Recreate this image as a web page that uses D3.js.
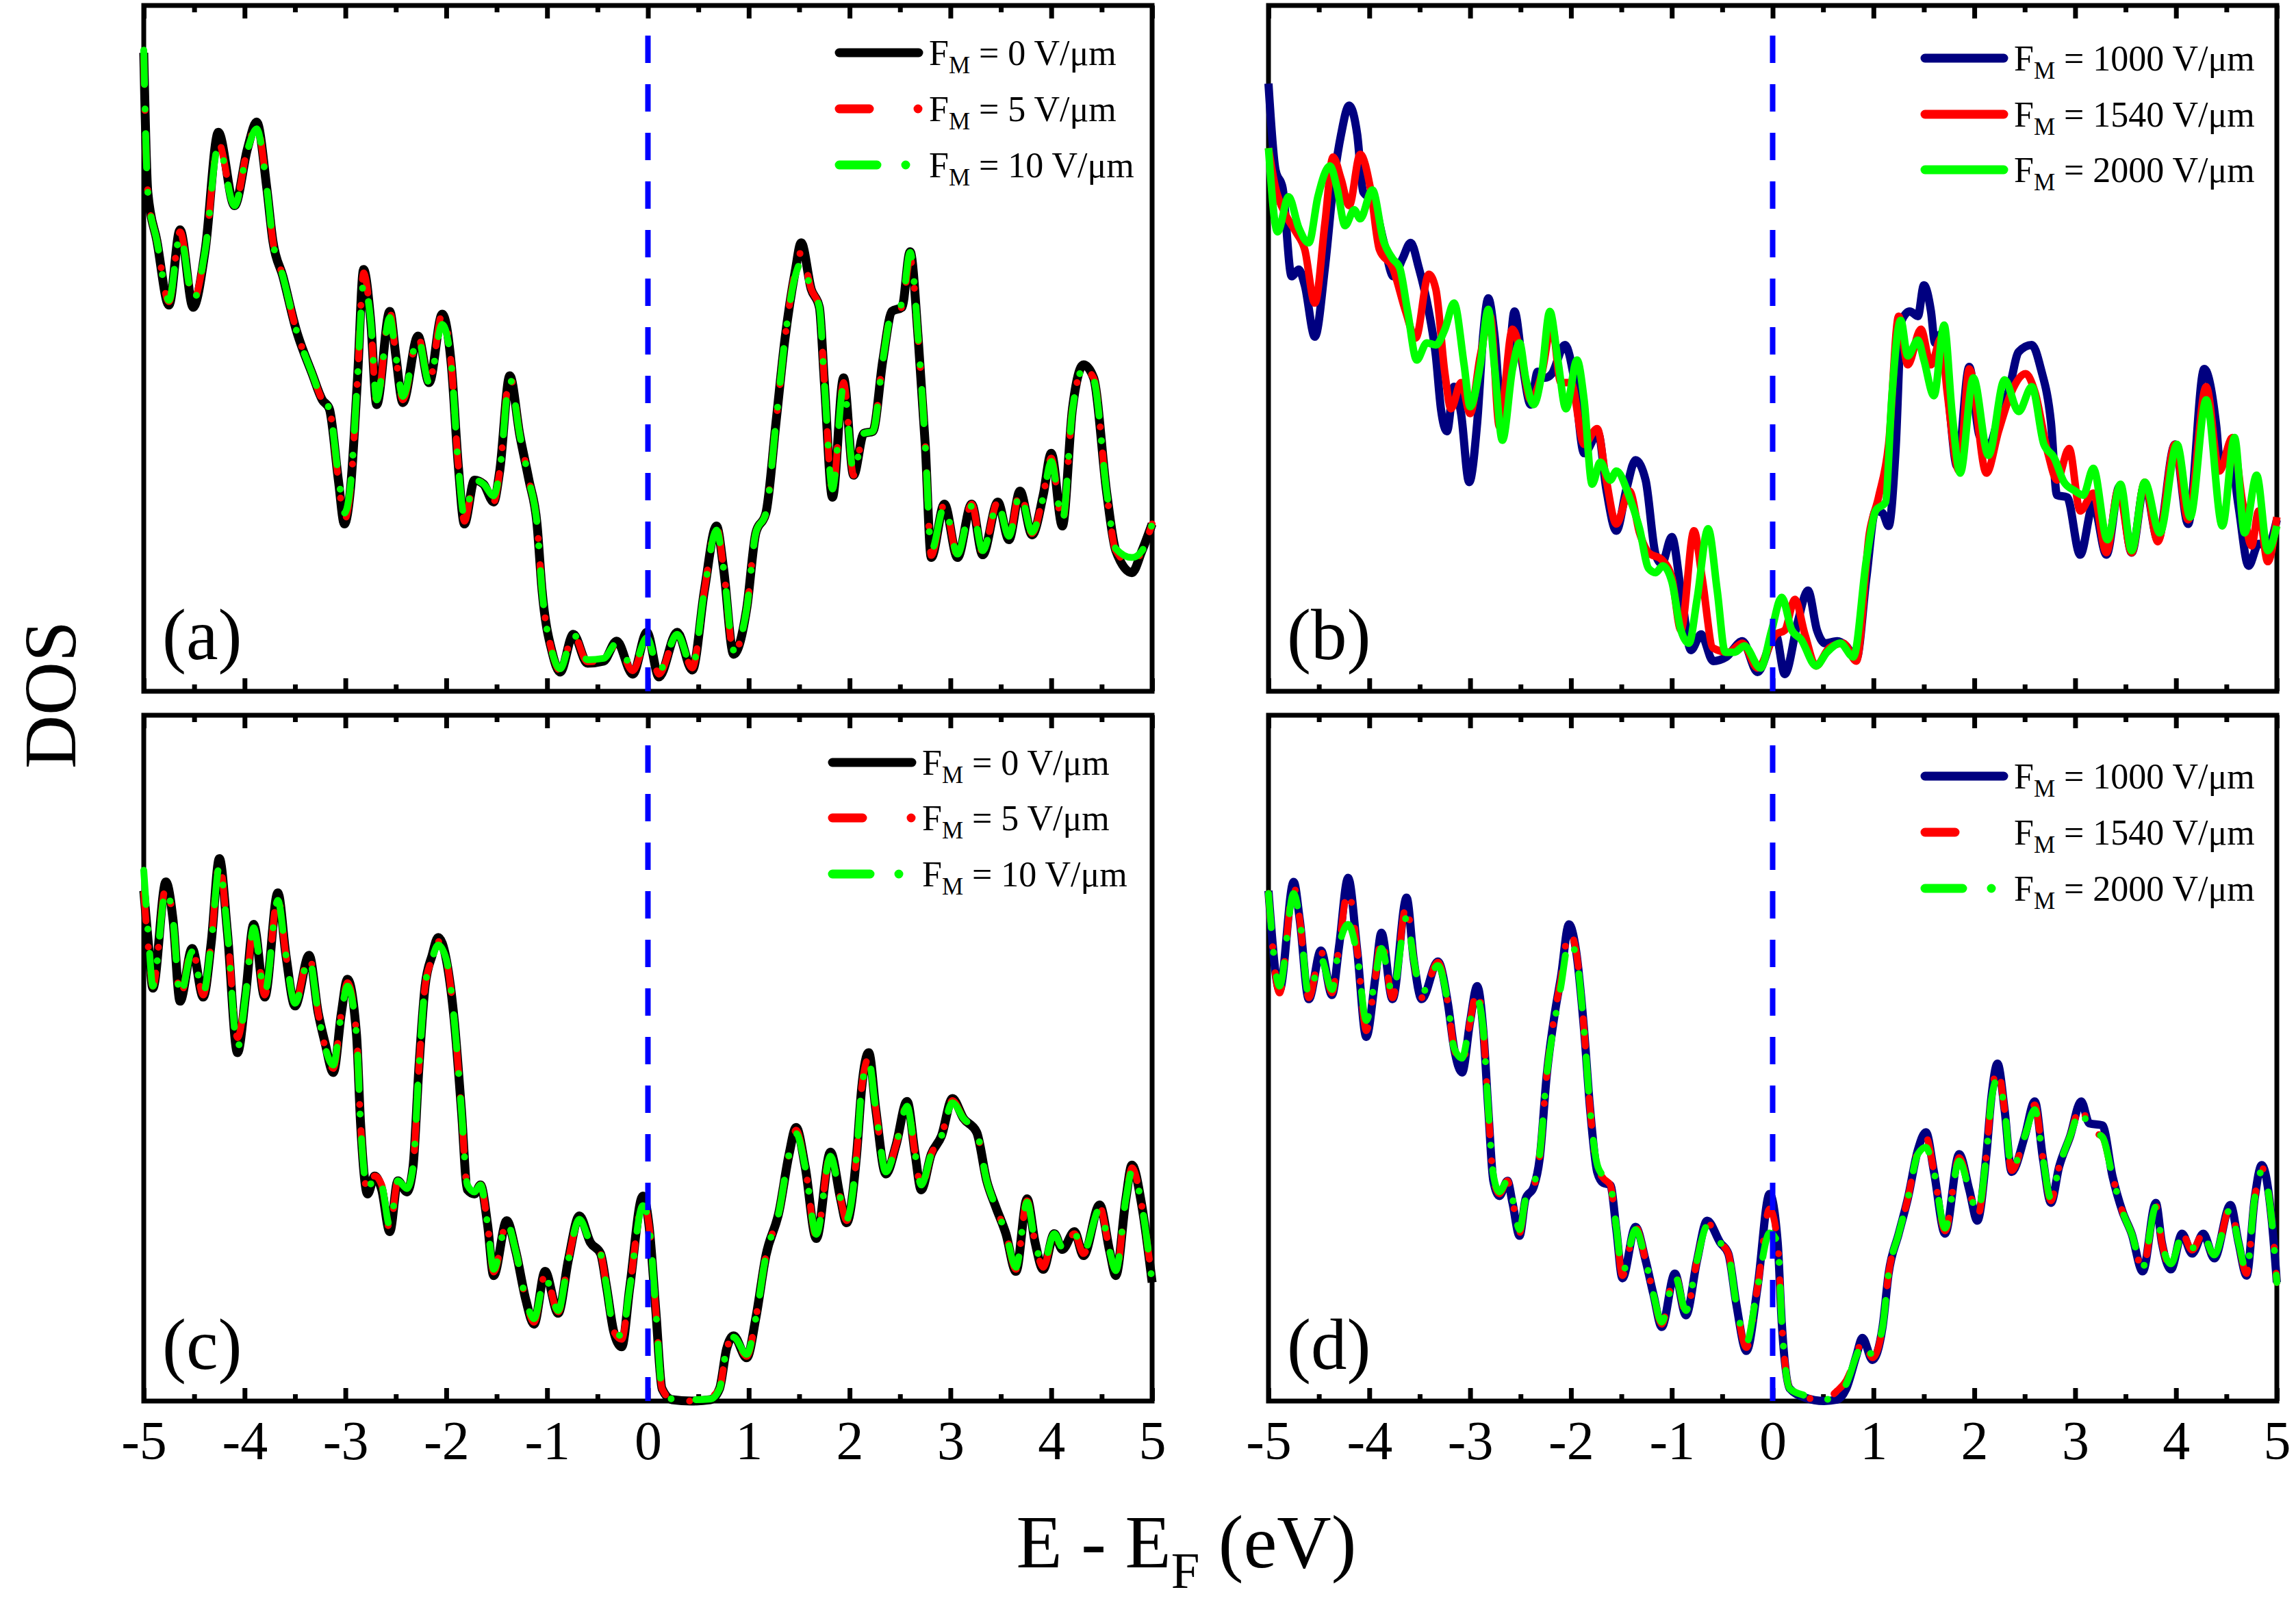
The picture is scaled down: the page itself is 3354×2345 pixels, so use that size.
<!DOCTYPE html>
<html>
<head>
<meta charset="utf-8">
<script src="https://cdn.jsdelivr.net/npm/d3@7"></script>
<style>
  body { margin: 0; background: #fff; }
  svg { display: block; font-family: "Liberation Serif", "Times New Roman", serif; }
  text { white-space: pre; }
</style>
</head>
<body>
<svg width="3354" height="2345"></svg>
<script>
// x axis
const xMajorTicks = [-5, -4, -3, -2, -1, 0, 1, 2, 3, 4, 5];
const xMinorTicks = [-4.5, -3.5, -2.5, -1.5, -0.5, 0.5, 1.5, 2.5, 3.5, 4.5];
const xTickLabels = ["-5", "-4", "-3", "-2", "-1", "0", "1", "2", "3", "4", "5"];

// legend field values (V/μm)
const lowFields = ["0", "5", "10"];
const highFields = ["1000", "1540", "2000"];
const panelLabels = ["(a)", "(b)", "(c)", "(d)"];

// DOS, [E - EF (eV), DOS (0 = panel bottom, 100 = panel top)]
const aBlack = [[-5.00,93.1],[-4.96,72.8],[-4.87,65.7],[-4.75,56.3],[-4.64,67.3],[-4.51,56.0],[-4.39,64.4],[-4.26,81.5],[-4.10,70.8],[-3.97,79.2],[-3.88,83.0],[-3.78,73.4],[-3.72,65.7],[-3.62,60.5],[-3.49,52.8],[-3.33,46.3],[-3.23,42.5],[-3.16,41.2],[-3.07,30.8],[-3.01,24.4],[-2.95,29.5],[-2.88,45.7],[-2.82,61.5],[-2.75,54.1],[-2.69,41.8],[-2.56,55.4],[-2.50,48.9],[-2.43,42.1],[-2.28,51.8],[-2.17,45.0],[-2.04,55.0],[-1.95,47.6],[-1.88,32.8],[-1.82,24.4],[-1.72,30.8],[-1.63,30.2],[-1.53,27.6],[-1.47,32.1],[-1.37,46.0],[-1.27,37.3],[-1.18,30.8],[-1.10,24.4],[-1.05,14.7],[-0.95,5.7],[-0.87,2.8],[-0.74,8.3],[-0.60,4.1],[-0.44,4.4],[-0.31,7.3],[-0.15,2.5],[-0.01,8.6],[0.11,2.1],[0.29,8.6],[0.44,3.1],[0.56,14.7],[0.68,24.1],[0.75,17.9],[0.85,5.4],[0.98,12.1],[1.07,23.1],[1.17,26.0],[1.27,39.2],[1.36,51.5],[1.46,61.2],[1.52,65.4],[1.62,58.6],[1.70,56.0],[1.75,45.0],[1.83,28.3],[1.94,45.7],[2.04,31.5],[2.14,37.6],[2.23,37.9],[2.33,48.3],[2.42,55.4],[2.52,56.0],[2.60,64.1],[2.68,51.5],[2.75,36.0],[2.81,19.5],[2.94,27.3],[3.07,19.5],[3.21,27.3],[3.32,19.9],[3.47,27.6],[3.58,22.1],[3.69,29.2],[3.81,22.8],[3.92,28.6],[4.00,34.7],[4.11,24.1],[4.21,41.2],[4.32,47.6],[4.42,45.7],[4.55,28.9],[4.64,20.5],[4.80,17.3],[4.90,20.5],[5.00,24.4]];
const aRed = [[-5.00,92.5],[-4.96,72.8],[-4.87,65.7],[-4.75,56.8],[-4.64,67.0],[-4.51,57.0],[-4.39,64.4],[-4.26,80.0],[-4.10,70.8],[-3.97,79.2],[-3.88,82.5],[-3.78,73.4],[-3.72,65.7],[-3.62,60.5],[-3.49,52.8],[-3.33,46.3],[-3.23,42.5],[-3.16,41.2],[-3.07,30.8],[-3.01,25.0],[-2.95,29.5],[-2.88,45.7],[-2.82,61.0],[-2.75,54.1],[-2.69,41.8],[-2.56,55.4],[-2.50,48.9],[-2.43,42.5],[-2.28,51.8],[-2.17,45.0],[-2.04,55.0],[-1.95,47.6],[-1.88,32.8],[-1.82,24.8],[-1.72,30.8],[-1.63,30.2],[-1.53,27.6],[-1.47,32.1],[-1.37,46.0],[-1.27,37.3],[-1.18,30.8],[-1.10,24.4],[-1.05,14.7],[-0.95,5.7],[-0.87,3.0],[-0.74,8.3],[-0.60,4.3],[-0.44,4.6],[-0.31,6.8],[-0.15,3.0],[-0.01,7.6],[0.11,2.5],[0.29,8.3],[0.44,3.4],[0.56,14.7],[0.68,24.1],[0.75,17.9],[0.85,5.6],[0.98,12.1],[1.07,23.1],[1.17,26.0],[1.27,39.2],[1.36,51.5],[1.46,61.2],[1.52,64.0],[1.62,58.6],[1.70,56.0],[1.75,45.0],[1.83,29.0],[1.94,45.0],[2.04,31.5],[2.14,37.6],[2.23,37.9],[2.33,48.3],[2.42,55.4],[2.52,56.0],[2.60,63.0],[2.68,51.5],[2.75,36.0],[2.81,19.8],[2.94,27.3],[3.07,19.8],[3.21,27.3],[3.32,20.2],[3.47,27.6],[3.58,22.4],[3.69,29.2],[3.81,23.0],[3.92,28.6],[4.00,34.0],[4.11,24.4],[4.21,41.2],[4.32,47.0],[4.42,45.7],[4.55,28.9],[4.64,20.5],[4.80,18.5],[4.90,20.5],[5.00,24.4]];
const aGreen = [[-5.00,93.5],[-4.96,72.8],[-4.87,65.7],[-4.75,57.0],[-4.64,66.5],[-4.51,57.0],[-4.39,64.4],[-4.26,79.5],[-4.10,70.8],[-3.97,79.0],[-3.88,82.0],[-3.78,73.4],[-3.72,65.7],[-3.62,60.5],[-3.49,52.8],[-3.33,46.3],[-3.23,42.5],[-3.16,41.2],[-3.07,31.5],[-3.01,26.0],[-2.95,30.0],[-2.88,45.7],[-2.82,59.5],[-2.75,54.1],[-2.69,42.5],[-2.56,54.5],[-2.50,48.9],[-2.43,43.0],[-2.28,51.5],[-2.17,45.0],[-2.04,53.5],[-1.95,47.6],[-1.88,32.8],[-1.82,25.5],[-1.72,30.8],[-1.63,30.2],[-1.53,28.5],[-1.47,32.1],[-1.37,45.5],[-1.27,37.3],[-1.18,30.8],[-1.10,24.4],[-1.05,14.7],[-0.95,5.7],[-0.87,3.3],[-0.74,8.3],[-0.60,4.6],[-0.44,4.8],[-0.31,7.0],[-0.15,3.5],[-0.01,7.8],[0.11,3.0],[0.29,8.3],[0.44,3.6],[0.56,14.7],[0.68,23.5],[0.75,17.9],[0.85,6.0],[0.98,12.1],[1.07,23.1],[1.17,26.0],[1.27,39.2],[1.36,51.5],[1.46,60.5],[1.52,62.5],[1.62,58.6],[1.70,56.0],[1.75,45.0],[1.83,29.5],[1.94,44.5],[2.04,32.0],[2.14,37.6],[2.23,37.9],[2.33,48.3],[2.42,55.4],[2.52,56.5],[2.60,64.0],[2.68,51.5],[2.75,36.0],[2.81,20.5],[2.94,27.0],[3.07,20.0],[3.21,27.0],[3.32,20.5],[3.47,27.3],[3.58,22.6],[3.69,28.8],[3.81,23.2],[3.92,28.3],[4.00,33.5],[4.11,24.8],[4.21,41.0],[4.32,47.0],[4.42,45.5],[4.55,29.0],[4.64,20.8],[4.80,19.5],[4.90,20.5],[5.00,24.4]];

const bNavy = [[-5.00,88.6],[-4.93,76.0],[-4.86,73.4],[-4.77,60.5],[-4.70,61.5],[-4.64,59.2],[-4.54,51.7],[-4.44,61.8],[-4.35,74.7],[-4.28,81.2],[-4.20,85.4],[-4.12,81.2],[-4.06,72.8],[-3.96,71.5],[-3.86,65.7],[-3.76,60.5],[-3.67,63.1],[-3.59,65.4],[-3.51,61.8],[-3.41,55.4],[-3.34,48.9],[-3.29,41.2],[-3.23,37.9],[-3.16,44.4],[-3.09,40.5],[-3.01,30.5],[-2.93,39.2],[-2.87,52.1],[-2.82,57.3],[-2.76,52.1],[-2.68,39.2],[-2.61,48.9],[-2.56,55.4],[-2.48,47.6],[-2.40,41.8],[-2.33,46.6],[-2.26,45.7],[-2.19,46.3],[-2.06,50.5],[-1.97,45.7],[-1.87,34.7],[-1.73,37.6],[-1.65,29.5],[-1.55,23.4],[-1.45,29.5],[-1.36,33.7],[-1.26,30.8],[-1.16,19.9],[-1.10,18.6],[-1.00,22.5],[-0.91,14.7],[-0.81,6.0],[-0.71,8.3],[-0.59,4.4],[-0.46,5.0],[-0.30,7.3],[-0.15,2.8],[0.03,8.3],[0.12,2.5],[0.25,10.2],[0.35,14.7],[0.44,8.9],[0.52,7.0],[0.64,7.3],[0.73,6.6],[0.83,4.7],[0.93,16.6],[1.02,26.3],[1.09,26.0],[1.15,24.1],[1.22,35.4],[1.28,54.1],[1.36,55.4],[1.44,54.7],[1.50,59.2],[1.57,55.4],[1.61,50.8],[1.67,52.1],[1.73,45.0],[1.83,32.8],[1.95,47.3],[2.05,37.3],[2.15,36.0],[2.24,39.9],[2.34,43.7],[2.44,49.5],[2.57,50.5],[2.66,47.0],[2.76,39.2],[2.82,28.6],[2.92,28.3],[3.05,19.9],[3.18,27.3],[3.31,19.9],[3.44,29.9],[3.56,20.2],[3.69,30.2],[3.82,22.1],[3.99,36.0],[4.12,24.4],[4.28,47.0],[4.40,38.6],[4.44,32.8],[4.53,35.4],[4.62,27.0],[4.72,18.3],[4.82,21.5],[4.91,21.2],[5.00,25.0]];
const bRed = [[-5.00,79.2],[-4.93,73.4],[-4.83,69.5],[-4.73,67.0],[-4.64,64.4],[-4.54,56.6],[-4.44,68.3],[-4.36,77.9],[-4.28,74.7],[-4.20,70.8],[-4.09,78.3],[-3.99,73.4],[-3.90,64.4],[-3.77,61.8],[-3.64,55.4],[-3.54,51.5],[-3.41,60.8],[-3.34,58.6],[-3.25,46.3],[-3.19,41.2],[-3.09,45.0],[-3.00,40.5],[-2.90,48.9],[-2.80,54.7],[-2.71,38.6],[-2.58,52.8],[-2.50,49.5],[-2.40,42.5],[-2.29,46.3],[-2.19,53.4],[-2.10,45.0],[-2.00,45.0],[-1.87,36.0],[-1.74,38.3],[-1.65,30.8],[-1.55,24.4],[-1.42,29.2],[-1.32,23.1],[-1.23,20.2],[-1.10,19.2],[-1.00,16.6],[-0.91,8.9],[-0.78,23.4],[-0.70,16.6],[-0.59,6.3],[-0.44,5.7],[-0.30,7.0],[-0.15,3.4],[0.03,8.3],[0.12,8.9],[0.22,13.4],[0.32,8.3],[0.43,3.7],[0.56,6.3],[0.70,7.0],[0.83,4.4],[0.96,23.1],[1.05,28.3],[1.15,36.0],[1.25,54.7],[1.34,47.6],[1.47,52.8],[1.57,47.6],[1.67,51.5],[1.73,43.7],[1.85,32.1],[1.95,47.0],[2.12,31.8],[2.24,37.9],[2.37,43.7],[2.51,46.3],[2.60,43.7],[2.73,34.7],[2.82,30.8],[2.94,35.4],[3.05,26.3],[3.18,28.9],[3.31,20.2],[3.43,29.5],[3.56,20.2],[3.69,30.5],[3.82,21.8],[3.99,36.0],[4.12,25.0],[4.30,44.4],[4.43,32.1],[4.56,37.0],[4.66,27.6],[4.75,21.2],[4.82,26.3],[4.91,18.9],[5.00,25.4]];
const bGreen = [[-5.00,79.2],[-4.91,67.0],[-4.80,72.1],[-4.70,67.6],[-4.60,65.4],[-4.51,72.1],[-4.39,76.6],[-4.32,73.4],[-4.24,67.9],[-4.15,70.2],[-4.09,68.9],[-3.97,73.1],[-3.86,65.7],[-3.77,63.1],[-3.70,61.8],[-3.62,55.4],[-3.53,48.3],[-3.43,50.8],[-3.34,50.5],[-3.25,52.8],[-3.16,56.6],[-3.06,47.6],[-3.00,41.5],[-2.90,47.6],[-2.82,55.7],[-2.76,47.6],[-2.68,36.6],[-2.58,47.0],[-2.51,50.8],[-2.45,45.7],[-2.37,41.8],[-2.29,46.3],[-2.21,55.4],[-2.13,48.3],[-2.05,41.2],[-1.94,48.3],[-1.87,42.5],[-1.79,30.2],[-1.71,33.4],[-1.61,30.8],[-1.55,32.1],[-1.42,28.3],[-1.32,23.7],[-1.23,17.9],[-1.16,17.3],[-1.09,18.3],[-1.00,16.0],[-0.91,8.9],[-0.83,7.0],[-0.75,13.4],[-0.64,23.7],[-0.55,14.7],[-0.47,5.7],[-0.38,5.7],[-0.28,6.6],[-0.12,3.4],[-0.01,8.9],[0.09,13.7],[0.19,8.9],[0.28,7.6],[0.43,3.7],[0.54,5.7],[0.67,7.0],[0.80,5.0],[0.93,19.2],[1.02,26.3],[1.12,27.6],[1.18,42.5],[1.27,54.1],[1.34,48.9],[1.44,51.2],[1.50,48.3],[1.60,43.1],[1.70,53.4],[1.78,40.5],[1.86,31.8],[1.99,45.7],[2.14,34.4],[2.30,45.4],[2.44,40.8],[2.57,44.4],[2.69,36.0],[2.79,34.1],[2.89,30.5],[3.00,29.2],[3.08,28.6],[3.18,32.5],[3.32,22.1],[3.45,30.2],[3.56,20.5],[3.69,30.5],[3.84,23.1],[4.01,36.0],[4.14,25.4],[4.30,42.5],[4.46,24.1],[4.58,37.0],[4.68,23.1],[4.80,31.5],[4.91,20.5],[5.00,24.1]];

const cBlack = [[-5.00,74.4],[-4.95,66.0],[-4.91,60.2],[-4.78,75.7],[-4.71,70.2],[-4.64,58.3],[-4.52,66.0],[-4.41,58.9],[-4.33,67.0],[-4.25,79.1],[-4.17,68.3],[-4.07,50.8],[-3.99,59.2],[-3.91,69.5],[-3.80,58.9],[-3.67,74.1],[-3.59,65.0],[-3.50,57.6],[-3.36,65.0],[-3.27,56.6],[-3.20,52.1],[-3.12,47.9],[-3.04,56.6],[-2.98,61.5],[-2.89,53.4],[-2.85,40.5],[-2.78,30.2],[-2.71,32.8],[-2.64,30.8],[-2.56,24.7],[-2.48,32.1],[-2.39,30.5],[-2.33,34.1],[-2.27,48.9],[-2.21,60.5],[-2.14,65.0],[-2.08,67.6],[-2.00,64.4],[-1.92,55.4],[-1.85,42.5],[-1.79,30.8],[-1.72,30.2],[-1.66,31.5],[-1.59,25.7],[-1.53,18.3],[-1.40,26.3],[-1.31,21.8],[-1.21,14.7],[-1.13,11.2],[-1.02,18.9],[-0.89,12.8],[-0.79,20.5],[-0.68,27.0],[-0.57,23.1],[-0.47,21.5],[-0.41,16.6],[-0.34,10.2],[-0.26,7.9],[-0.18,16.6],[-0.05,29.9],[0.01,25.7],[0.08,12.8],[0.14,1.8],[0.24,0.2],[0.43,0.0],[0.62,0.2],[0.71,1.8],[0.78,7.6],[0.85,9.5],[0.98,6.3],[1.07,12.1],[1.17,21.2],[1.30,27.6],[1.40,36.0],[1.47,39.9],[1.56,34.1],[1.67,23.7],[1.81,36.3],[1.91,29.5],[1.97,26.0],[2.07,36.0],[2.12,45.7],[2.19,50.8],[2.26,42.5],[2.36,33.1],[2.46,37.3],[2.57,43.7],[2.65,36.0],[2.71,30.8],[2.81,36.0],[2.91,38.6],[3.02,44.1],[3.13,41.2],[3.26,39.2],[3.36,32.1],[3.45,28.3],[3.55,24.4],[3.65,18.9],[3.76,29.5],[3.84,23.1],[3.92,19.2],[4.03,24.4],[4.11,22.1],[4.23,24.7],[4.32,21.2],[4.48,28.6],[4.58,21.8],[4.64,18.3],[4.74,29.5],[4.80,34.4],[4.90,28.3],[5.00,17.3]];
const cRed = [[-5.00,74.0],[-4.95,65.5],[-4.91,60.5],[-4.78,75.0],[-4.71,70.2],[-4.64,58.8],[-4.52,66.0],[-4.41,59.2],[-4.33,67.0],[-4.25,78.5],[-4.17,68.3],[-4.07,53.0],[-3.99,59.2],[-3.91,69.0],[-3.80,59.2],[-3.67,73.5],[-3.59,65.0],[-3.50,58.0],[-3.36,65.0],[-3.27,56.6],[-3.20,51.5],[-3.12,48.5],[-3.04,56.6],[-2.98,61.0],[-2.89,53.4],[-2.85,40.5],[-2.78,30.5],[-2.71,32.8],[-2.64,31.5],[-2.56,25.0],[-2.48,32.1],[-2.39,31.0],[-2.33,34.1],[-2.27,48.9],[-2.21,60.5],[-2.14,64.5],[-2.08,67.0],[-2.00,64.4],[-1.92,55.4],[-1.85,42.5],[-1.79,31.0],[-1.72,30.5],[-1.66,31.5],[-1.59,25.7],[-1.53,18.8],[-1.40,26.0],[-1.31,21.8],[-1.21,14.7],[-1.13,11.5],[-1.02,18.5],[-0.89,13.0],[-0.79,20.5],[-0.68,26.5],[-0.57,23.1],[-0.47,21.5],[-0.41,16.6],[-0.34,10.2],[-0.26,9.0],[-0.18,16.6],[-0.05,29.0],[0.01,25.7],[0.08,12.8],[0.14,1.8],[0.24,0.2],[0.43,0.0],[0.62,0.6],[0.71,1.8],[0.78,7.6],[0.85,9.3],[0.98,6.5],[1.07,12.1],[1.17,21.2],[1.30,27.6],[1.40,36.0],[1.47,39.5],[1.56,34.1],[1.67,24.0],[1.81,36.0],[1.91,29.5],[1.97,26.3],[2.07,36.0],[2.12,45.7],[2.19,50.0],[2.26,42.5],[2.36,33.4],[2.46,37.3],[2.57,43.2],[2.65,36.0],[2.71,31.0],[2.81,36.0],[2.91,38.6],[3.02,43.8],[3.13,41.2],[3.26,39.2],[3.36,32.1],[3.45,28.3],[3.55,24.4],[3.65,19.2],[3.76,29.2],[3.84,23.1],[3.92,19.5],[4.03,24.4],[4.11,22.1],[4.23,24.4],[4.32,21.5],[4.48,28.3],[4.58,21.8],[4.64,18.6],[4.74,29.5],[4.80,34.0],[4.90,28.3],[5.00,17.3]];
const cGreen = [[-5.00,77.4],[-4.95,67.0],[-4.91,60.5],[-4.78,74.5],[-4.71,70.2],[-4.64,59.0],[-4.52,65.5],[-4.41,59.5],[-4.33,67.0],[-4.25,78.0],[-4.17,68.3],[-4.07,51.5],[-3.99,59.2],[-3.91,69.0],[-3.80,59.5],[-3.67,73.0],[-3.59,65.0],[-3.50,58.0],[-3.36,64.5],[-3.27,56.6],[-3.20,51.5],[-3.12,49.0],[-3.04,56.6],[-2.98,60.5],[-2.89,53.4],[-2.85,40.5],[-2.78,30.8],[-2.71,32.8],[-2.64,31.5],[-2.56,25.5],[-2.48,32.1],[-2.39,31.0],[-2.33,34.1],[-2.27,48.9],[-2.21,60.5],[-2.14,64.5],[-2.08,66.5],[-2.00,64.4],[-1.92,55.4],[-1.85,42.5],[-1.79,31.5],[-1.72,30.5],[-1.66,31.5],[-1.59,25.7],[-1.53,19.2],[-1.40,26.0],[-1.31,21.8],[-1.21,14.7],[-1.13,12.0],[-1.02,18.0],[-0.89,13.2],[-0.79,20.5],[-0.68,26.5],[-0.57,23.1],[-0.47,21.5],[-0.41,16.6],[-0.34,10.5],[-0.26,9.5],[-0.18,16.6],[-0.05,28.5],[0.01,25.7],[0.08,12.8],[0.14,1.8],[0.24,0.3],[0.43,0.2],[0.62,0.3],[0.71,1.8],[0.78,7.6],[0.85,9.3],[0.98,6.8],[1.07,12.1],[1.17,21.2],[1.30,27.6],[1.40,36.0],[1.47,39.0],[1.56,34.1],[1.67,24.3],[1.81,35.7],[1.91,29.5],[1.97,26.5],[2.07,36.0],[2.12,45.7],[2.19,49.5],[2.26,42.5],[2.36,33.4],[2.46,37.3],[2.57,43.0],[2.65,36.0],[2.71,31.5],[2.81,36.0],[2.91,38.6],[3.02,43.5],[3.13,41.2],[3.26,39.2],[3.36,32.1],[3.45,28.3],[3.55,24.4],[3.65,19.5],[3.76,29.0],[3.84,23.1],[3.92,20.0],[4.03,24.4],[4.11,22.4],[4.23,24.4],[4.32,21.8],[4.48,28.0],[4.58,21.8],[4.64,19.0],[4.74,29.5],[4.80,33.5],[4.90,28.3],[5.00,17.3]];

const dNavy = [[-5.00,74.4],[-4.89,59.9],[-4.75,75.7],[-4.69,70.2],[-4.60,58.6],[-4.48,65.7],[-4.37,59.2],[-4.30,66.3],[-4.21,76.3],[-4.12,65.7],[-4.03,53.1],[-3.94,61.8],[-3.88,68.3],[-3.77,58.6],[-3.63,73.4],[-3.56,64.4],[-3.48,58.6],[-3.32,64.1],[-3.22,57.9],[-3.16,51.5],[-3.08,47.9],[-3.00,55.4],[-2.93,60.5],[-2.87,54.1],[-2.82,42.5],[-2.77,32.1],[-2.71,29.9],[-2.63,32.1],[-2.58,28.9],[-2.51,24.1],[-2.45,29.5],[-2.37,31.2],[-2.31,35.4],[-2.24,47.6],[-2.16,56.6],[-2.10,61.8],[-2.02,69.5],[-1.95,65.7],[-1.87,54.1],[-1.81,42.5],[-1.74,33.4],[-1.68,31.8],[-1.61,31.5],[-1.55,25.0],[-1.49,17.9],[-1.36,25.4],[-1.26,20.5],[-1.18,15.4],[-1.10,10.8],[-0.97,18.6],[-0.86,12.5],[-0.75,20.5],[-0.65,26.3],[-0.52,23.1],[-0.44,21.5],[-0.36,14.1],[-0.26,7.3],[-0.15,16.6],[-0.03,30.2],[0.05,23.1],[0.09,11.5],[0.17,1.8],[0.32,0.5],[0.51,0.0],[0.64,0.2],[0.73,1.8],[0.83,6.6],[0.89,9.2],[0.99,6.0],[1.09,10.8],[1.15,18.6],[1.25,24.4],[1.34,29.5],[1.44,36.6],[1.52,39.2],[1.60,33.4],[1.71,24.4],[1.85,36.0],[1.95,30.8],[2.03,26.3],[2.12,36.0],[2.17,44.4],[2.23,49.2],[2.30,42.5],[2.37,33.4],[2.50,38.6],[2.60,43.7],[2.68,35.4],[2.76,28.9],[2.84,34.1],[2.95,38.6],[3.06,43.7],[3.14,40.5],[3.27,40.2],[3.37,32.8],[3.47,27.6],[3.56,24.4],[3.67,18.9],[3.80,28.9],[3.86,23.1],[3.95,19.2],[4.06,24.4],[4.16,21.5],[4.27,24.4],[4.38,20.8],[4.54,28.6],[4.62,23.1],[4.70,18.3],[4.78,29.5],[4.85,34.4],[4.95,26.3],[5.00,17.3]];
const dRed = [[-5.00,74.0],[-4.89,59.5],[-4.75,75.0],[-4.69,70.2],[-4.60,58.8],[-4.48,65.5],[-4.37,59.5],[-4.30,66.3],[-4.21,74.5],[-4.12,65.7],[-4.03,54.0],[-3.94,61.8],[-3.88,67.5],[-3.77,58.8],[-3.63,72.5],[-3.56,64.4],[-3.48,58.8],[-3.32,64.0],[-3.22,57.9],[-3.16,51.5],[-3.08,49.0],[-3.00,55.4],[-2.93,60.0],[-2.87,54.1],[-2.82,42.5],[-2.77,32.5],[-2.71,30.2],[-2.63,32.1],[-2.58,29.2],[-2.51,24.5],[-2.45,29.5],[-2.37,31.2],[-2.31,35.8],[-2.24,47.6],[-2.16,56.6],[-2.10,61.5],[-2.02,68.5],[-1.95,65.7],[-1.87,54.1],[-1.81,42.5],[-1.74,34.0],[-1.68,32.5],[-1.61,31.5],[-1.55,25.0],[-1.49,18.3],[-1.36,25.4],[-1.26,20.5],[-1.18,15.4],[-1.10,11.2],[-0.97,18.6],[-0.86,12.8],[-0.75,20.5],[-0.65,26.0],[-0.52,23.1],[-0.44,21.5],[-0.36,14.1],[-0.26,7.8],[-0.15,16.6],[-0.03,28.0],[0.05,23.1],[0.09,11.5],[0.17,1.8],[0.32,0.5],[0.51,0.2],[0.64,1.5],[0.73,3.0],[0.83,6.6],[0.89,9.0],[0.99,6.3],[1.09,10.8],[1.15,18.6],[1.25,24.4],[1.34,29.5],[1.44,36.6],[1.52,38.5],[1.60,33.4],[1.71,24.8],[1.85,35.5],[1.95,30.8],[2.03,26.8],[2.12,36.0],[2.17,44.4],[2.23,48.5],[2.30,42.5],[2.37,33.6],[2.50,38.6],[2.60,43.2],[2.68,35.4],[2.76,29.2],[2.84,34.1],[2.95,38.6],[3.06,43.2],[3.14,39.5],[3.27,38.5],[3.37,32.8],[3.47,27.6],[3.56,24.4],[3.67,19.2],[3.80,28.6],[3.86,23.1],[3.95,19.5],[4.06,24.4],[4.16,22.0],[4.27,24.4],[4.38,21.0],[4.54,28.3],[4.62,23.1],[4.70,18.6],[4.78,29.5],[4.85,34.0],[4.95,26.3],[5.00,17.3]];
const dGreen = [[-5.00,74.0],[-4.89,60.5],[-4.75,74.0],[-4.69,70.2],[-4.60,59.2],[-4.48,64.5],[-4.37,60.0],[-4.30,66.3],[-4.21,69.5],[-4.12,65.0],[-4.03,55.5],[-3.94,61.8],[-3.88,66.0],[-3.77,59.5],[-3.63,70.5],[-3.56,64.4],[-3.48,59.5],[-3.32,63.5],[-3.22,57.9],[-3.16,51.5],[-3.08,50.0],[-3.00,55.4],[-2.93,58.5],[-2.87,54.1],[-2.82,42.5],[-2.77,33.0],[-2.71,30.5],[-2.63,32.1],[-2.58,29.5],[-2.51,25.0],[-2.45,29.5],[-2.37,31.5],[-2.31,36.0],[-2.24,47.6],[-2.16,55.5],[-2.10,60.5],[-2.02,67.0],[-1.95,65.0],[-1.87,54.1],[-1.81,42.5],[-1.74,34.5],[-1.68,32.8],[-1.61,31.5],[-1.55,25.3],[-1.49,18.8],[-1.36,25.0],[-1.26,20.5],[-1.18,15.4],[-1.10,11.5],[-0.97,18.3],[-0.86,13.2],[-0.75,20.5],[-0.65,25.5],[-0.52,23.1],[-0.44,21.5],[-0.36,14.1],[-0.26,8.5],[-0.15,16.6],[-0.03,24.5],[0.05,23.1],[0.09,11.5],[0.17,1.8],[0.32,0.8],[0.51,0.2],[0.64,0.8],[0.73,2.5],[0.83,6.6],[0.89,8.5],[0.99,6.8],[1.09,10.8],[1.15,18.6],[1.25,24.4],[1.34,29.5],[1.44,36.0],[1.52,37.0],[1.60,33.4],[1.71,25.2],[1.85,35.0],[1.95,30.8],[2.03,27.5],[2.12,36.0],[2.17,44.0],[2.23,47.0],[2.30,42.5],[2.37,33.8],[2.50,38.6],[2.60,42.5],[2.68,35.4],[2.76,29.5],[2.84,34.1],[2.95,38.6],[3.06,42.5],[3.14,39.5],[3.27,38.5],[3.37,32.8],[3.47,27.6],[3.56,24.4],[3.67,19.5],[3.80,28.3],[3.86,23.1],[3.95,20.0],[4.06,24.0],[4.16,22.3],[4.27,24.0],[4.38,21.3],[4.54,28.0],[4.62,23.1],[4.70,19.0],[4.78,29.5],[4.85,33.5],[4.95,26.3],[5.00,17.3]];

let svg = d3.select("svg");

const W = 1473, H = 1002;

// line styles (plot and legend sample)
const solidBlack = {color: "#000000", width: 13, dash: null, legendDash: null};
const solidNavy = {color: "#000080", width: 12, dash: null, legendDash: null};
const dashRed = {color: "#ff0000", width: 10, dash: "40 38 0 38", legendDash: "44 71 0 100"};
const dashGreen = {color: "#00ff00", width: 10, dash: "50 36 0 36", legendDash: "55 42 0 100"};
const lineRed = {color: "#ff0000", width: 11, dash: null, legendDash: null};
const lineGreen = {color: "#00ff00", width: 11, dash: null, legendDash: null};

const panels = [
    {left: 210, top: 8, label: panelLabels[0], fields: lowFields, showTicks: false,
     series: [aBlack, aRed, aGreen], styles: [solidBlack, dashRed, dashGreen],
     legend: {x0: 1010, x1: 1138, tx: 1147, ys: [69, 151, 233]}},
    {left: 1853, top: 8, label: panelLabels[1], fields: highFields, showTicks: false,
     series: [bNavy, bRed, bGreen], styles: [solidNavy, lineRed, lineGreen],
     legend: {x0: 953, x1: 1080, tx: 1089, ys: [77, 159, 240]}},
    {left: 210, top: 1045, label: panelLabels[2], fields: lowFields, showTicks: true,
     series: [cBlack, cRed, cGreen], styles: [solidBlack, dashRed, dashGreen],
     legend: {x0: 1000, x1: 1128, tx: 1137, ys: [69, 150, 232]}},
    {left: 1853, top: 1045, label: panelLabels[3], fields: highFields, showTicks: true,
     series: [dNavy, dRed, dGreen], styles: [solidNavy, dashRed, dashGreen],
     legend: {x0: 953, x1: 1080, tx: 1089, ys: [89, 171, 253]}}
];

function styleAxis(g) {
    g.select(".domain").remove();
    g.attr("font-family", null).attr("font-size", null);
    g.selectAll("line").attr("stroke", "#000").attr("stroke-width", 7);
    g.selectAll("text").attr("fill", "#000").attr("font-size", 80);
}

function drawPanel(p) {
    let x = d3.scaleLinear().domain([-5, 5]).range([p.left, p.left + W]);
    let y = d3.scaleLinear().domain([0, 100]).range([p.top + H, p.top]);
    let g = svg.append("g").attr("class", "panel");

    // frame
    g.append("rect")
        .attr("x", p.left).attr("y", p.top)
        .attr("width", W).attr("height", H)
        .attr("fill", "none").attr("stroke", "#000").attr("stroke-width", 7);

    // inward ticks, bottom and top
    g.append("g")
        .attr("transform", `translate(0,${p.top + H})`)
        .call(d3.axisBottom(x).tickValues(xMajorTicks).tickSize(-19).tickPadding(28)
            .tickFormat((d, i) => p.showTicks ? xTickLabels[i] : ""))
        .call(styleAxis);
    g.append("g")
        .attr("transform", `translate(0,${p.top + H})`)
        .call(d3.axisBottom(x).tickValues(xMinorTicks).tickSize(-10).tickFormat(""))
        .call(styleAxis);
    g.append("g")
        .attr("transform", `translate(0,${p.top})`)
        .call(d3.axisTop(x).tickValues(xMajorTicks).tickSize(-19).tickFormat(""))
        .call(styleAxis);
    g.append("g")
        .attr("transform", `translate(0,${p.top})`)
        .call(d3.axisTop(x).tickValues(xMinorTicks).tickSize(-10).tickFormat(""))
        .call(styleAxis);

    // DOS curves
    let line = d3.line()
        .x(d => x(d[0]))
        .y(d => y(d[1]))
        .curve(d3.curveMonotoneX);

    p.series.forEach((s, i) => {
        let st = p.styles[i];
        g.append("path")
            .datum(s)
            .attr("d", line)
            .attr("fill", "none")
            .attr("stroke", st.color)
            .attr("stroke-width", st.width)
            .attr("stroke-linejoin", "round")
            .attr("stroke-linecap", st.dash ? "round" : "butt")
            .attr("stroke-dasharray", st.dash);
    });

    // Fermi level
    g.append("line")
        .attr("x1", x(0)).attr("x2", x(0))
        .attr("y1", p.top + 44).attr("y2", p.top + H)
        .attr("stroke", "#0000ff")
        .attr("stroke-width", 8)
        .attr("stroke-dasharray", "40 31");

    // legend
    let lg = p.legend;
    p.fields.forEach((f, i) => {
        let st = p.styles[i];
        let ly = p.top + lg.ys[i];
        g.append("line")
            .attr("x1", p.left + lg.x0 + 6).attr("x2", p.left + lg.x1 - 6)
            .attr("y1", ly).attr("y2", ly)
            .attr("stroke", st.color)
            .attr("stroke-width", 13)
            .attr("stroke-linecap", "round")
            .attr("stroke-dasharray", st.legendDash);
        let t = g.append("text")
            .attr("x", p.left + lg.tx)
            .attr("y", ly + 18)
            .attr("font-size", 52)
            .attr("fill", "#000");
        t.append("tspan").text("F");
        t.append("tspan").attr("font-size", 35).attr("dy", 12).text("M");
        t.append("tspan").attr("dy", -12).text(` = ${f} V/μm`);
    });

    // panel label
    g.append("text")
        .attr("x", p.left + 27)
        .attr("y", p.top + H - 47)
        .attr("font-size", 105)
        .attr("fill", "#000")
        .text(p.label);
}

panels.forEach(drawPanel);

// axis titles
svg.append("text")
    .attr("transform", "translate(110,1015) rotate(-90)")
    .attr("text-anchor", "middle")
    .attr("font-size", 108)
    .text("DOS");

let xt = svg.append("text")
    .attr("x", 1733)
    .attr("y", 2290)
    .attr("text-anchor", "middle")
    .attr("font-size", 110);
xt.append("tspan").text("E - E");
xt.append("tspan").attr("font-size", 75).attr("dy", 30).text("F");
xt.append("tspan").attr("dy", -30).text(" (eV)");
</script>
</body>
</html>
